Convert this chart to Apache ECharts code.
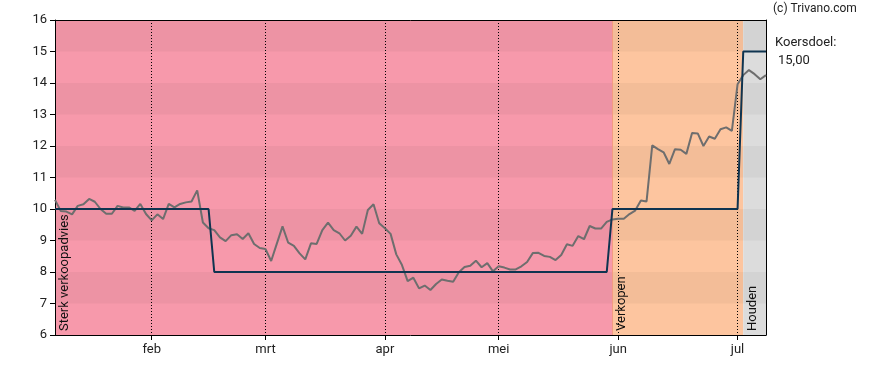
<!DOCTYPE html>
<html><head><meta charset="utf-8">
<script src="https://cdn.jsdelivr.net/npm/echarts@6/dist/echarts.min.js"></script>
<style>html,body{margin:0;padding:0;background:#fff}#c{width:888px;height:370px}</style>
</head><body><div id="c"></div><script>
// trading-day calendar (Euronext 2025)
const startDate = '2025-01-09';
const endDate = '2025-07-08';
const holidays = ['2025-04-18', '2025-04-21', '2025-05-01'];

const monthTickDates = ['2025-02-03', '2025-03-03', '2025-04-01', '2025-05-02', '2025-06-02', '2025-07-01'];
const monthTickLabels = ['feb', 'mrt', 'apr', 'mei', 'jun', 'jul'];

const yMin = 6, yMax = 16, yInterval = 1;

const price = [
  10.29, 9.94, 9.92, 9.83, 10.10, 10.15, 10.32, 10.23, 10.00, 9.85,
  9.85, 10.10, 10.05, 10.05, 9.94, 10.16, 9.84, 9.64, 9.83, 9.68,
  10.16, 10.05, 10.16, 10.21, 10.24, 10.59, 9.57, 9.39, 9.33, 9.10,
  8.98, 9.17, 9.20, 9.05, 9.23, 8.89, 8.76, 8.73, 8.35, 8.90,
  9.45, 8.93, 8.83, 8.59, 8.40, 8.91, 8.89, 9.33, 9.57, 9.33,
  9.23, 9.00, 9.15, 9.44, 9.21, 9.97, 10.15, 9.55, 9.39, 9.21,
  8.56, 8.22, 7.71, 7.82, 7.48, 7.57, 7.43, 7.62, 7.76, 7.72,
  7.69, 7.99, 8.16, 8.20, 8.36, 8.15, 8.28, 8.02, 8.18, 8.14,
  8.08, 8.08, 8.18, 8.32, 8.60, 8.61, 8.51, 8.48, 8.38, 8.54,
  8.88, 8.83, 9.14, 9.04, 9.46, 9.38, 9.38, 9.59, 9.67, 9.69,
  9.69, 9.84, 9.95, 10.27, 10.24, 12.02, 11.90, 11.80, 11.43, 11.90,
  11.88, 11.75, 12.41, 12.40, 12.00, 12.30, 12.23, 12.53, 12.59, 12.48,
  13.96, 14.25, 14.41, 14.28, 14.12, 14.25
];

const target = [
  10, 10, 10, 10, 10, 10, 10, 10, 10, 10,
  10, 10, 10, 10, 10, 10, 10, 10, 10, 10,
  10, 10, 10, 10, 10, 10, 10, 10, 8, 8,
  8, 8, 8, 8, 8, 8, 8, 8, 8, 8,
  8, 8, 8, 8, 8, 8, 8, 8, 8, 8,
  8, 8, 8, 8, 8, 8, 8, 8, 8, 8,
  8, 8, 8, 8, 8, 8, 8, 8, 8, 8,
  8, 8, 8, 8, 8, 8, 8, 8, 8, 8,
  8, 8, 8, 8, 8, 8, 8, 8, 8, 8,
  8, 8, 8, 8, 8, 8, 8, 8, 10, 10,
  10, 10, 10, 10, 10, 10, 10, 10, 10, 10,
  10, 10, 10, 10, 10, 10, 10, 10, 10, 10,
  10, 15, 15, 15, 15, 15
];

const zoneNames = ['Sterk verkoopadvies', 'Verkopen', 'Houden'];
const zoneStarts = ['2025-01-09', '2025-05-30', '2025-07-02'];
const zoneEnds = ['2025-05-30', '2025-07-02', '2025-07-08'];

const targetLabel = 'Koersdoel:';
const targetValueText = '15,00';
const copyright = '(c) Trivano.com';

// build category list of trading days
function fmt(d) {
  const m = String(d.getUTCMonth() + 1).padStart(2, '0');
  const dd = String(d.getUTCDate()).padStart(2, '0');
  return d.getUTCFullYear() + '-' + m + '-' + dd;
}
const categories = [];
for (let d = new Date(startDate + 'T00:00:00Z'); fmt(d) <= endDate; d.setUTCDate(d.getUTCDate() + 1)) {
  const wd = d.getUTCDay();
  const s = fmt(d);
  if (wd !== 0 && wd !== 6 && holidays.indexOf(s) < 0) categories.push(s);
}

const zoneColors = ['#F799AB', '#FDC59F', '#DCDCDC'];
const FONT = 'Roboto, Arial, sans-serif';

const bandPieces = [];
for (let v = yMin + 1; v < yMax; v += 2) {
  bandPieces.push([{ yAxis: v, itemStyle: { color: 'rgba(0,0,0,0.038)' } }, { yAxis: v + 1 }]);
}

const chart = echarts.init(document.getElementById('c'), null, { renderer: 'canvas' });
const isMonth = (idx, val) => monthTickDates.indexOf(val) >= 0;

chart.setOption({
  animation: false,
  textStyle: { fontFamily: FONT },
  grid: { left: 55, right: 122, top: 20, bottom: 35, containLabel: false },
  xAxis: [{
    type: 'category', data: categories, boundaryGap: false, z: 5,
    axisLine: { show: true, lineStyle: { color: '#000', width: 1 } },
    axisTick: { show: true, interval: isMonth, length: 5, lineStyle: { color: '#000' } },
    axisLabel: {
      interval: isMonth, margin: 8, fontSize: 13, color: '#222', fontFamily: FONT,
      formatter: v => monthTickLabels[monthTickDates.indexOf(v)] || ''
    },
    splitLine: { show: true, interval: isMonth, lineStyle: { color: '#000', width: 1, type: [1, 2] } }
  }, {
    type: 'category', data: categories, boundaryGap: false, position: 'top', z: 5,
    axisLine: { show: true, onZero: false, lineStyle: { color: '#000', width: 1 } },
    axisTick: { show: false }, axisLabel: { show: false }, splitLine: { show: false }
  }],
  yAxis: [{
    type: 'value', min: yMin, max: yMax, interval: yInterval, z: 5,
    axisLine: { show: true, lineStyle: { color: '#000', width: 1 } },
    axisTick: { show: true, length: 5, lineStyle: { color: '#000' } },
    axisLabel: { margin: 8, fontSize: 13, color: '#222', fontFamily: FONT },
    splitLine: { show: false }
  }, {
    type: 'value', min: yMin, max: yMax, interval: yInterval, position: 'right', z: 5,
    axisLine: { show: true, lineStyle: { color: '#000', width: 1 } },
    axisTick: { show: false }, axisLabel: { show: false }, splitLine: { show: false }
  }],
  series: [{
    type: 'line', name: 'zones', z: 0, silent: true, data: price,
    showSymbol: false, lineStyle: { opacity: 0 },
    markArea: {
      silent: true,
      data: zoneStarts.map((s, i) => [{ xAxis: s, itemStyle: { color: zoneColors[i] } }, { xAxis: zoneEnds[i] }])
    }
  }, {
    type: 'line', name: 'bands', z: 1, silent: true, data: price,
    showSymbol: false, lineStyle: { opacity: 0 },
    markArea: { silent: true, data: bandPieces },
    markLine: {
      silent: true, symbol: 'none', label: { show: false },
      lineStyle: { color: '#F39A82', width: 1, type: 'solid' },
      data: [{ xAxis: zoneStarts[1] }]
    }
  }, {
    type: 'line', name: 'Koers', data: price, z: 6,
    showSymbol: false, symbol: 'none',
    lineStyle: { color: '#6E6E6E', width: 2 }
  }, {
    type: 'line', name: 'Koersdoel', data: target, z: 7,
    showSymbol: false, symbol: 'none',
    lineStyle: { color: '#0F3450', width: 2 }
  }]
});

const bottomY = chart.convertToPixel({ yAxisIndex: 0 }, yMin);
const graphics = zoneNames.map((n, i) => {
  const x = chart.convertToPixel({ xAxisIndex: 0 }, zoneStarts[i]);
  return {
    type: 'text', x: x + 3, y: bottomY - 4, rotation: Math.PI / 2, z: 10,
    style: { text: n, fontSize: 13, fontFamily: FONT, fill: '#111', textAlign: 'left', textVerticalAlign: 'top' }
  };
});
graphics.push(
  { type: 'text', x: 773, y: 9, z: 10, style: { text: copyright, fontSize: 12, fontFamily: FONT, fill: '#222', textAlign: 'left', textVerticalAlign: 'middle' } },
  { type: 'text', x: 775, y: 43, z: 10, style: { text: targetLabel, fontSize: 13, fontFamily: FONT, fill: '#222', textAlign: 'left', textVerticalAlign: 'middle' } },
  { type: 'text', x: 778, y: 61, z: 10, style: { text: targetValueText, fontSize: 13, fontFamily: FONT, fill: '#222', textAlign: 'left', textVerticalAlign: 'middle' } }
);
chart.setOption({ graphic: graphics });
</script></body></html>
